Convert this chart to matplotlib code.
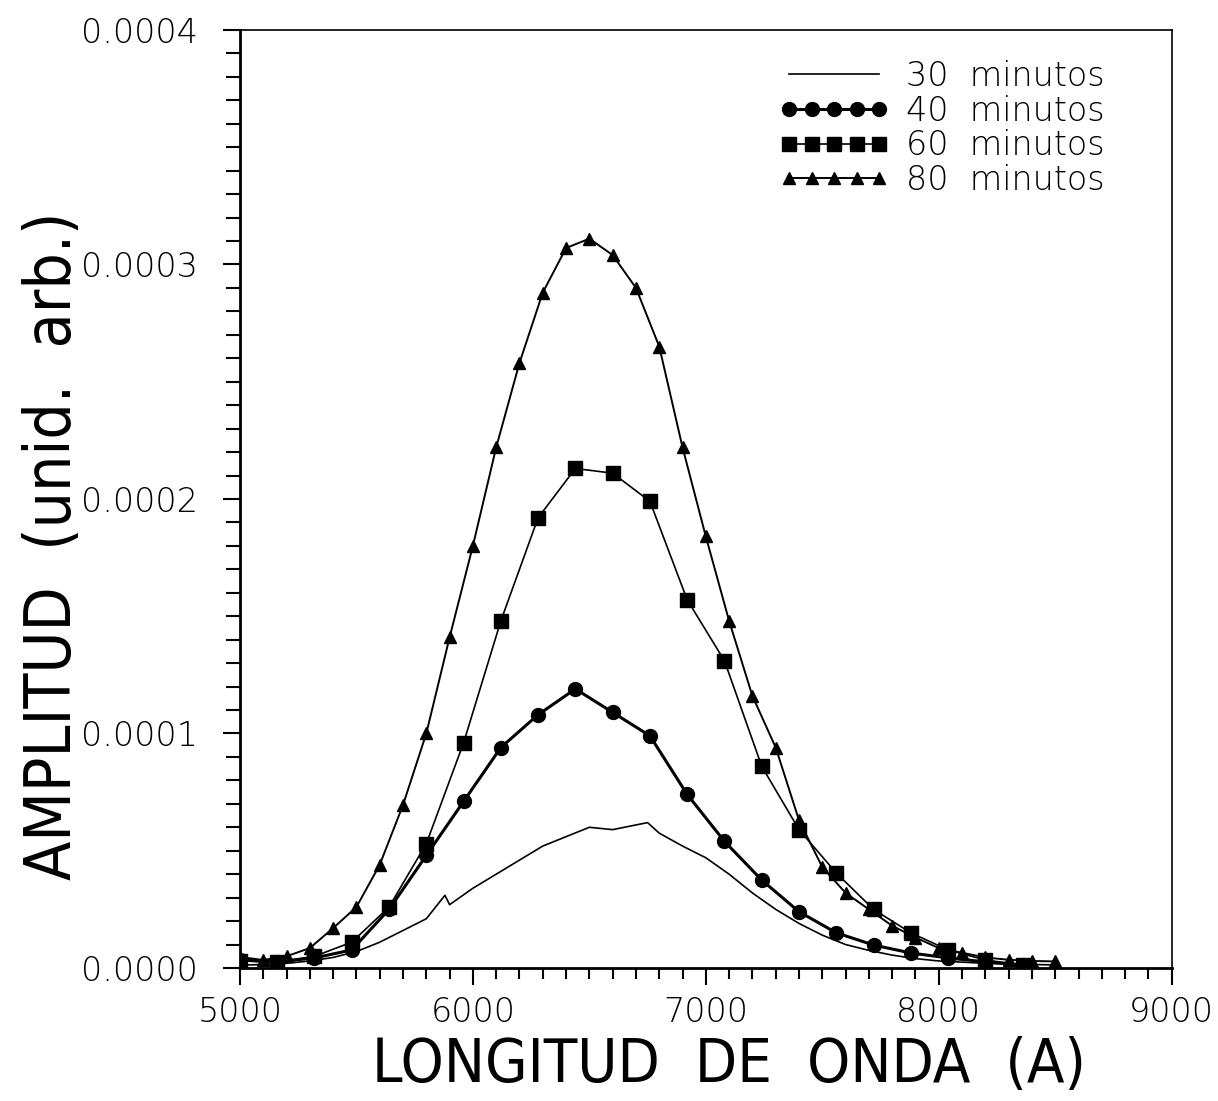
import matplotlib
matplotlib.use("Agg")
from matplotlib import pyplot as plt
from matplotlib.ticker import MultipleLocator, FormatStrFormatter

# wavelength (A) and amplitude (x1e-4)
wl_30 = [5000, 5100, 5200, 5300, 5400, 5500, 5600, 5700, 5800, 5880, 5900, 6000,
         6100, 6200, 6300, 6400, 6500, 6600, 6700, 6750, 6800, 6900, 7000, 7100,
         7200, 7300, 7400, 7500, 7600, 7700, 7800, 7900, 8000, 8100, 8200, 8300,
         8400, 8500]
amp_30 = [0.012, 0.015, 0.02, 0.03, 0.045, 0.07, 0.11, 0.16, 0.21, 0.31, 0.27, 0.34,
          0.40, 0.46, 0.52, 0.56, 0.60, 0.59, 0.61, 0.62, 0.575, 0.52, 0.47, 0.40,
          0.32, 0.25, 0.19, 0.14, 0.10, 0.075, 0.055, 0.04, 0.03, 0.025, 0.02, 0.017,
          0.015, 0.013]

wl_40 = [5000, 5160, 5320, 5480, 5640, 5800, 5960, 6120, 6280, 6440, 6600, 6760,
         6920, 7080, 7240, 7400, 7560, 7720, 7880, 8040, 8200, 8360]
amp_40 = [0.034, 0.026, 0.043, 0.077, 0.25, 0.48, 0.71, 0.94, 1.08, 1.19, 1.09, 0.99,
          0.74, 0.54, 0.375, 0.24, 0.15, 0.098, 0.064, 0.043, 0.026, 0.013]

wl_60 = wl_40
amp_60 = [0.03, 0.026, 0.05, 0.11, 0.26, 0.53, 0.96, 1.48, 1.92, 2.13, 2.11, 1.99,
          1.57, 1.31, 0.86, 0.59, 0.405, 0.25, 0.15, 0.077, 0.034, 0.013]

wl_80 = list(range(5000, 8600, 100))
amp_80 = [0.047, 0.034, 0.05, 0.085, 0.17, 0.26, 0.44, 0.695, 1.00, 1.41, 1.80, 2.22,
          2.58, 2.88, 3.07, 3.11, 3.04, 2.90, 2.65, 2.22, 1.84, 1.48, 1.16, 0.94,
          0.63, 0.43, 0.32, 0.25, 0.18, 0.13, 0.085, 0.065, 0.045, 0.035, 0.03, 0.028]

labels = ['30  minutos', '40  minutos', '60  minutos', '80  minutos']

plt.rcParams['font.family'] = ['DejaVu Sans']

fig = plt.figure(figsize=(12.18, 11.01), dpi=100)
ax = fig.add_axes([0.197, 0.1208, 0.765, 0.852])

s = 1e-4
ax.plot(wl_30, [v * s for v in amp_30], color='black', lw=1.2, label=labels[0])
ax.plot(wl_40, [v * s for v in amp_40], color='black', lw=2.2, marker='o', ms=10,
        label=labels[1])
ax.plot(wl_60, [v * s for v in amp_60], color='black', lw=1.2, marker='s', ms=10,
        label=labels[2])
ax.plot(wl_80, [v * s for v in amp_80], color='black', lw=1.4, marker='^', ms=8,
        label=labels[3])

ax.set_xlim(5000, 9000)
ax.set_ylim(0, 0.0004)

ax.xaxis.set_major_locator(MultipleLocator(1000))
ax.xaxis.set_minor_locator(MultipleLocator(100))
ax.yaxis.set_major_locator(MultipleLocator(0.0001))
ax.yaxis.set_minor_locator(MultipleLocator(0.00001))
ax.yaxis.set_major_formatter(FormatStrFormatter('%.4f'))

ax.tick_params(axis='both', which='major', direction='out', length=12, width=1.5,
               labelsize=24, top=False, right=False)
ax.tick_params(axis='x', which='minor', direction='out', length=8, width=1.5,
               top=False)
ax.tick_params(axis='y', which='minor', direction='out', length=10, width=1.5,
               right=False)
ax.tick_params(axis='y', which='major', pad=18)
ax.tick_params(axis='x', which='major', pad=8)
for lbl in ax.get_xticklabels() + ax.get_yticklabels():
    lbl.set_fontweight('light')

for side in ['left', 'bottom']:
    ax.spines[side].set_linewidth(2)
for side in ['top', 'right']:
    ax.spines[side].set_linewidth(1.2)

ax.set_xlabel('LONGITUD  DE  ONDA  (A)', fontsize=44, fontstretch='condensed',
              fontweight='light')
ax.xaxis.set_label_coords(0.525, -0.072)
ax.set_ylabel('AMPLITUD  (unid.  arb.)', fontsize=46, fontstretch='condensed',
              fontweight='light')
ax.yaxis.set_label_coords(-0.167, 0.45)

leg = ax.legend(loc='upper right', bbox_to_anchor=(0.96, 1.0), frameon=False,
                fontsize=24, numpoints=5, handlelength=3.3, labelspacing=0.05,
                handletextpad=0.5, markerscale=1.0)
for t in leg.get_texts():
    t.set_fontweight('light')

plt.savefig('out.png', dpi=100)
